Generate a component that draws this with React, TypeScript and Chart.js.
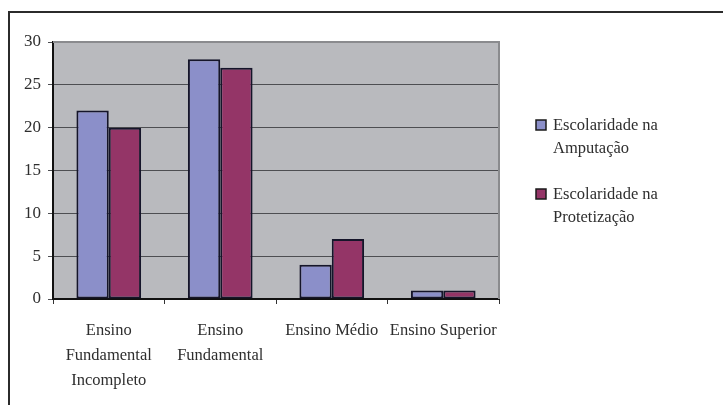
import React, { useEffect, useRef } from "react";
import { Chart, registerables } from "chart.js";

Chart.register(...registerables);

const categories: string[][] = [
  ["Ensino", "Fundamental", "Incompleto"],
  ["Ensino", "Fundamental"],
  ["Ensino Médio"],
  ["Ensino Superior"],
];
const amputacao = [22, 28, 4, 1];
const protetizacao = [20, 27, 7, 1];
const seriesNames = [
  ["Escolaridade na", "Amputação"],
  ["Escolaridade na", "Protetização"],
];
const seriesColors = ["#8b8fc9", "#943567"];

const SERIF = "'Liberation Serif', 'DejaVu Serif', serif";

const framePlugin = {
  id: "frame",
  beforeDraw(chart: any) {
    const { ctx, chartArea: a } = chart;
    ctx.save();
    ctx.fillStyle = "#ffffff";
    ctx.fillRect(0, 0, chart.width, chart.height);
    // outer frame (top and left edges)
    ctx.strokeStyle = "#2b2b2b";
    ctx.lineWidth = 2;
    ctx.beginPath();
    ctx.moveTo(9, chart.height);
    ctx.lineTo(9, 12);
    ctx.lineTo(chart.width, 12);
    ctx.stroke();
    // plot background
    ctx.fillStyle = "#b9babe";
    ctx.fillRect(a.left, a.top, a.right - a.left, a.bottom - a.top);
    ctx.restore();
  },
  afterDatasetsDraw(chart: any) {
    const { ctx, chartArea: a } = chart;
    ctx.save();
    ctx.strokeStyle = "#8a8b8e";
    ctx.lineWidth = 2;
    ctx.beginPath();
    ctx.moveTo(a.left, a.top);
    ctx.lineTo(a.right, a.top);
    ctx.lineTo(a.right, a.bottom);
    ctx.stroke();
    ctx.restore();
  },
  afterDraw(chart: any) {
    const { ctx } = chart;
    ctx.save();
    const x = 536;
    const starts = [120, 189];
    ctx.font = `16.5px ${SERIF}`;
    ctx.textBaseline = "middle";
    ctx.textAlign = "left";
    seriesNames.forEach((lines, i) => {
      const y = starts[i];
      ctx.fillStyle = seriesColors[i];
      ctx.fillRect(x, y, 10, 10);
      ctx.strokeStyle = "#1a1a1a";
      ctx.lineWidth = 1.5;
      ctx.strokeRect(x, y, 10, 10);
      ctx.fillStyle = "#2e2e2e";
      lines.forEach((t, j) => ctx.fillText(t, 553, y + 6 + j * 23));
    });
    ctx.restore();
  },
};

export default function App() {
  const ref = useRef<HTMLCanvasElement | null>(null);

  useEffect(() => {
    if (!ref.current) return;
    const chart = new Chart(ref.current, {
      type: "bar",
      data: {
        labels: categories,
        datasets: [
          {
            label: "Escolaridade na Amputação",
            data: amputacao,
            backgroundColor: seriesColors[0],
            borderColor: "#15152a",
            borderWidth: 2,
            borderSkipped: false,
            categoryPercentage: 0.58,
            barPercentage: 1,
          },
          {
            label: "Escolaridade na Protetização",
            data: protetizacao,
            backgroundColor: seriesColors[1],
            borderColor: "#15152a",
            borderWidth: 2,
            borderSkipped: false,
            categoryPercentage: 0.58,
            barPercentage: 1,
          },
        ],
      },
      options: {
        animation: false,
        responsive: false,
        layout: { padding: { left: 0, right: 224, top: 42, bottom: 0 } },
        plugins: {
          legend: { display: false },
          tooltip: { enabled: false },
        },
        scales: {
          x: {
            afterFit: (s: any) => {
              s.height = 106;
            },
            grid: {
              offset: true,
              drawOnChartArea: false,
              drawTicks: true,
              tickLength: 5,
              color: "#333333",
            },
            border: { color: "#111111", width: 2 },
            ticks: {
              color: "#2e2e2e",
              font: { family: SERIF, size: 16.5, lineHeight: 1.52 },
              padding: 14,
              maxRotation: 0,
              autoSkip: false,
            },
          },
          y: {
            min: 0,
            max: 30,
            afterFit: (s: any) => {
              s.width = 53;
            },
            grid: {
              color: "#4d4e52",
              lineWidth: 1,
              tickLength: 5,
              drawTicks: true,
            },
            border: { color: "#111111", width: 2 },
            ticks: {
              stepSize: 5,
              color: "#2e2e2e",
              font: { family: SERIF, size: 17 },
              padding: 7,
            },
          },
        },
      },
      plugins: [framePlugin],
    });
    return () => chart.destroy();
  }, []);

  return (
    <div style={{ position: "absolute", left: 0, top: 0, width: 723, height: 405 }}>
      <canvas ref={ref} width={723} height={405} style={{ display: "block" }} />
    </div>
  );
}
